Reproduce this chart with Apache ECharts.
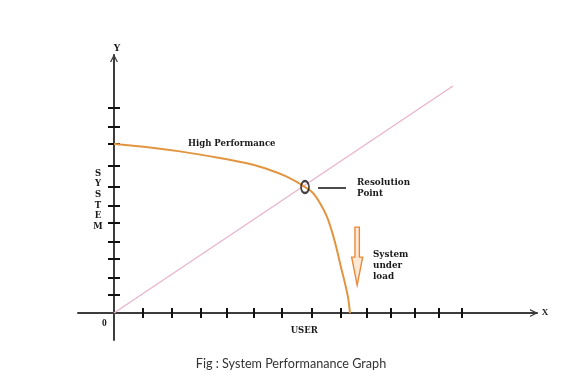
<!DOCTYPE html>
<html>
<head>
<meta charset="utf-8">
<script src="https://cdn.jsdelivr.net/npm/echarts@6/dist/echarts.min.js"></script>
<style>html,body{margin:0;padding:0;background:#fff}#c{width:574px;height:379px}</style>
</head>
<body>
<div id="c"></div>
<script>
// Tick positions (irregular, hand-drawn axis)
const xTicks = [1.09, 2.18, 3.27, 4.25, 5.26, 6.32, 7.44, 8.53, 9.51, 10.41, 11.32, 12.22, 13.08];
const yTicks = [0.97, 1.88, 2.9, 3.82, 4.84, 5.75, 6.77, 7.9, 9.09, 10.0, 11.02];
// Performance curve
const curveX = [0, 1.35, 2.48, 3.98, 5.11, 5.86, 6.43, 6.80, 7.18, 7.48, 7.74, 8.01, 8.20, 8.38, 8.53, 8.68, 8.80, 8.87];
const curveY = [9.09, 8.90, 8.69, 8.33, 8.01, 7.69, 7.37, 7.10, 6.77, 6.45, 5.91, 5.16, 4.35, 3.39, 2.47, 1.61, 0.81, 0];
// User load line
const loadX = [0, 12.74];
const loadY = [0, 12.2];
// Resolution point
const resX = [7.18];
const resY = [6.77];
// Callout line
const calloutX = [7.67, 8.72];
const calloutY = [6.72, 6.72];

const chevron = 'path://M0,10 L5,0 L10,10 L8.3,10 L5,3.4 L1.7,10 Z';
const axisColor = '#3c3c3c';
const tickStyle = {color: '#111', width: 2};
const serif = '"DejaVu Serif","Liberation Serif",serif';
const serif2 = '"Liberation Serif","DejaVu Serif",serif';

function xAx(inside, main) {
  return {
    type: 'value', position: 'bottom', min: -1.353, max: 15.9,
    axisLine: {show: main, onZero: true, lineStyle: {color: axisColor, width: 2},
      symbol: ['none', chevron], symbolSize: [12, 8], symbolOffset: [0, -3]},
    axisTick: {show: true, customValues: xTicks, length: 5, inside: inside, lineStyle: tickStyle},
    axisLabel: {show: false}, splitLine: {show: false}
  };
}
function yAx(inside, main) {
  return {
    type: 'value', position: 'left', min: -1.45, max: 13.87,
    axisLine: {show: main, onZero: true, lineStyle: {color: axisColor, width: 2},
      symbol: ['none', chevron], symbolSize: [15, 8], symbolOffset: [0, -3]},
    axisTick: {show: true, customValues: yTicks, length: 6, inside: inside, lineStyle: tickStyle},
    axisLabel: {show: false}, splitLine: {show: false}
  };
}

const chart = echarts.init(document.getElementById('c'), null, {renderer: 'canvas'});
chart.setOption({
  backgroundColor: '#ffffff',
  animation: false,
  grid: {left: 78, right: 37, top: 55, bottom: 39},
  xAxis: [xAx(false, true), xAx(true, false)],
  yAxis: [yAx(false, true), yAx(true, false)],
  series: [
    {type: 'line', data: loadX.map((x, i) => [x, loadY[i]]), showSymbol: false,
      lineStyle: {color: '#e9b3cc', width: 1.3}, z: 2},
    {type: 'line', data: curveX.map((x, i) => [x, curveY[i]]), showSymbol: false, smooth: 0.3,
      lineStyle: {color: '#e29540', width: 2}, z: 3},
    {type: 'line', data: calloutX.map((x, i) => [x, calloutY[i]]), showSymbol: false,
      lineStyle: {color: '#111', width: 1.5}, z: 3},
    {type: 'scatter', data: resX.map((x, i) => [x, resY[i]]), symbol: 'circle', symbolSize: [8, 12],
      itemStyle: {color: 'rgba(0,0,0,0)', borderColor: '#111', borderWidth: 2}, z: 4}
  ]
});

// Annotation positions anchored to data coordinates
const p = (x, y) => chart.convertToPixel({xAxisIndex: 0, yAxisIndex: 0}, [x, y]);
const arrowTop = p(9.14, 4.62);
const ax = arrowTop[0], ay = arrowTop[1];
const labelStyle = (t, x, y, size, align, fam) => ({
  type: 'text', x: x, y: y,
  style: {text: t, font: 'bold ' + size + 'px ' + (fam || serif), fill: '#1a1a1a', align: align || 'left', verticalAlign: 'middle'}
});
chart.setOption({
  graphic: [
    {type: 'polygon', shape: {points: [
      [ax - 2.2, ay], [ax + 2.2, ay], [ax + 2.2, ay + 30], [ax + 5.5, ay + 30],
      [ax, ay + 58], [ax - 5.5, ay + 30], [ax - 2.2, ay + 30]]},
      style: {fill: '#fde9d6', stroke: '#e8893a', lineWidth: 1.4}},
    labelStyle('Y', p(0, 14.2)[0] + 3, p(0, 14.2)[1], 9, 'center'),
    labelStyle('X', p(16.2, 0)[0], p(16.2, 0)[1], 9, 'center', serif2),
    labelStyle('0', p(-0.36, 0)[0], p(0, -0.55)[1], 9.5, 'center', serif2),
    labelStyle('USER', p(7.15, 0)[0], p(0, -0.95)[1], 8.5, 'center'),
    labelStyle('High Performance', 188, 144, 8.5),
    labelStyle('Resolution', 357, 183, 8.8),
    labelStyle('Point', 357, 194, 8.8),
    labelStyle('System', 373, 255, 8.8),
    labelStyle('under', 373, 266, 8.8),
    labelStyle('load', 373, 277, 8.8),
    {type: 'text', x: 98, y: 200, style: {text: 'S\nY\nS\nT\nE\nM', font: 'bold 8.5px ' + serif,
      fill: '#1a1a1a', align: 'center', verticalAlign: 'middle', lineHeight: 10.6}},
    {type: 'text', x: 291, y: 364, style: {text: 'Fig : System Performanance Graph',
      font: '12.6px Lato, "Open Sans", sans-serif', fill: '#333333', align: 'center', verticalAlign: 'middle'}}
  ]
});
</script>
</body>
</html>
